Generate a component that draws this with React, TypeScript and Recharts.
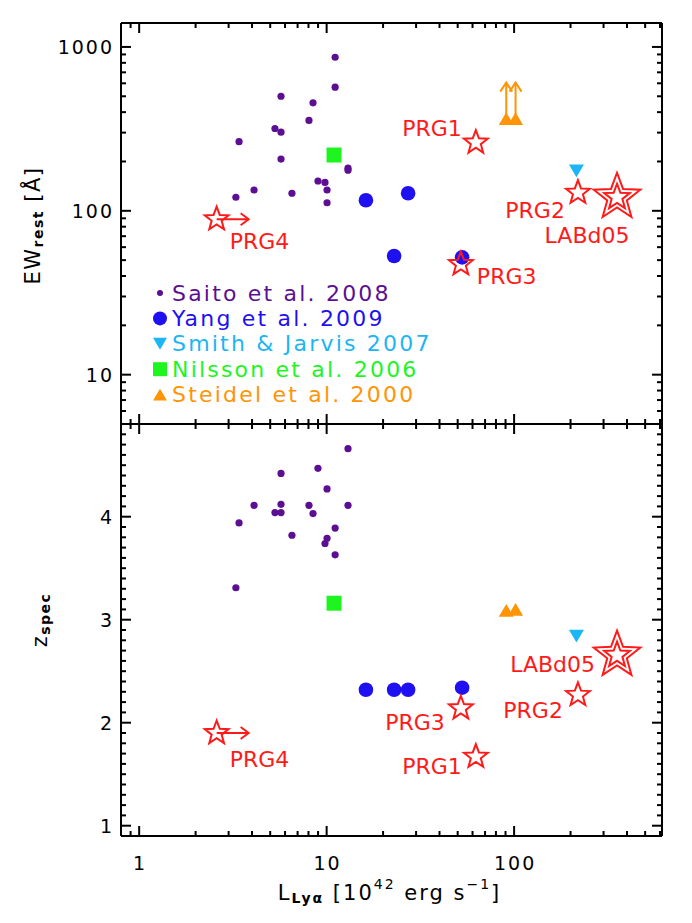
import React from 'react';
import { ScatterChart, Scatter, XAxis, YAxis, Legend } from 'recharts';

// Lya luminosity in 1e42 erg/s, rest-frame EW in Angstrom, spectroscopic redshift
const saitoL = [11.1, 11.1, 5.71, 8.46, 8.05, 5.3, 5.71, 3.41, 5.71, 13.0, 13.0, 8.99, 9.8, 10.05, 4.1, 6.53, 3.28, 10.05];
const saitoEW = [865, 568, 500, 456, 356, 318, 302, 264, 207, 182, 177, 152, 149, 134, 134, 128, 121, 112];
const saitoZ = [3.89, 3.63, 4.42, 4.03, 4.11, 4.04, 4.12, 3.94, 4.04, 4.66, 4.11, 4.47, 3.74, 4.27, 4.11, 3.82, 3.31, 3.79];

const yangL = [16.2, 22.9, 27.2, 52.8];
const yangEW = [116, 53, 128, 52];
const yangZ = [2.32, 2.32, 2.32, 2.34];

const smithL = [215];
const smithEW = [175];
const smithZ = [2.84];

const nilssonL = [10.95];
const nilssonEW = [219];
const nilssonZ = [3.16];

const steidelL = [90.8, 101.8];
const steidelEW = [365, 365];
const steidelZ = [3.09, 3.1];

const prgNames = ['PRG1', 'PRG2', 'PRG3', 'PRG4'];
const prgL = [62.5, 219, 52.0, 2.59];
const prgEW = [261, 129, 47.3, 88.9];
const prgZ = [1.67, 2.27, 2.14, 1.9];
const prgLowerLimitL = [false, false, false, true];

const labNames = ['LABd05'];
const labL = [354];
const labEW = [121];
const labZ = [2.656];

const legendNames = ['Saito et al. 2008', 'Yang et al. 2009', 'Smith & Jarvis 2007', 'Nilsson et al. 2006', 'Steidel et al. 2000'];

const X_DOMAIN = [0.8, 615];
const EW_DOMAIN = [5, 1400];
const Z_DOMAIN = [0.9, 4.9];

// ---- layout / style ----
const W = 692;
const H = 923;
const LEFT = 121;
const RIGHT = 662;
const TOP = 23;
const MID = 424;
const BOTTOM = 836;
const FONT = "'DejaVu Sans', sans-serif";
const AXIS_LINE = { stroke: '#000', strokeWidth: 2 };

const COLORS = {
  saito: '#5c0f92',
  yang: '#1f10f2',
  smith: '#1cb5f5',
  nilsson: '#1ef51e',
  steidel: '#ff9406',
  red: '#ff1a1a',
};
const legendColors = [COLORS.saito, COLORS.yang, COLORS.smith, COLORS.nilsson, COLORS.steidel];

// label placement next to the stars (offset from the marker)
const topLabelPos: Record<string, { dx: number; dy: number; anchor: string }> = {
  PRG1: { dx: -14, dy: -14, anchor: 'end' },
  PRG2: { dx: -13, dy: 18, anchor: 'end' },
  PRG3: { dx: 16, dy: 12, anchor: 'start' },
  PRG4: { dx: 13, dy: 22, anchor: 'start' },
  LABd05: { dx: -30, dy: 38, anchor: 'middle' },
};
const bottomLabelPos: Record<string, { dx: number; dy: number; anchor: string }> = {
  PRG1: { dx: -14, dy: 10, anchor: 'end' },
  PRG2: { dx: -15, dy: 16, anchor: 'end' },
  PRG3: { dx: -16, dy: 14, anchor: 'end' },
  PRG4: { dx: 13, dy: 26, anchor: 'start' },
  LABd05: { dx: -22, dy: 9, anchor: 'end' },
};

// ---- ticks ----
const logTicks = (lo: number, hi: number) => {
  const t: number[] = [];
  for (let e = -1; e <= 3; e++) {
    for (let m = 1; m <= 9; m++) {
      const v = +(m * Math.pow(10, e)).toPrecision(3);
      if (v > lo && v < hi) t.push(v);
    }
  }
  return t;
};
const xTicks = logTicks(X_DOMAIN[0], X_DOMAIN[1]);
const ewTicks = logTicks(EW_DOMAIN[0], EW_DOMAIN[1]);
const zTicks: number[] = [];
for (let k = 10; k < 49; k++) zTicks.push(k / 10);

const isDecade = (v: number) => Math.abs(Math.log10(v) - Math.round(Math.log10(v))) < 1e-6;
const isInteger = (v: number) => Math.abs(v - Math.round(v)) < 1e-6;

type Dir = 'up' | 'down' | 'left' | 'right';
const tickFactory = (dir: Dir, isMajor: (v: number) => boolean, label: 'below' | 'left' | null) =>
  function TickMark(props: any) {
    const { x, y, payload } = props;
    const v = payload.value;
    const major = isMajor(v);
    const len = major ? 10 : 5;
    const x2 = dir === 'left' ? x - len : dir === 'right' ? x + len : x;
    const y2 = dir === 'up' ? y - len : dir === 'down' ? y + len : y;
    const textStyle = { fontFamily: FONT, fontSize: 19, letterSpacing: 2, fill: '#000' };
    return (
      <g>
        <line x1={x} y1={y} x2={x2} y2={y2} stroke="#000" strokeWidth={2} />
        {major && label === 'below' && (
          <text x={x + 1} y={y + 27} textAnchor="middle" dominantBaseline="central" style={textStyle}>
            {v}
          </text>
        )}
        {major && label === 'left' && (
          <text x={x - 7} y={y} textAnchor="end" dominantBaseline="central" style={textStyle}>
            {v}
          </text>
        )}
      </g>
    );
  };

// ---- marker shapes ----
const starPath = (cx: number, cy: number, R: number) => {
  const r = R * 0.42;
  let d = '';
  for (let k = 0; k < 10; k++) {
    const rad = k % 2 === 0 ? R : r;
    const a = (-90 + k * 36) * (Math.PI / 180);
    d += `${k === 0 ? 'M' : 'L'}${cx + rad * Math.cos(a)},${cy + rad * Math.sin(a)}`;
  }
  return d + 'Z';
};

const dotShape = (r: number, fill: string) => (p: any) => <circle cx={p.cx} cy={p.cy} r={r} fill={fill} />;

const squareShape = (s: number, fill: string) => (p: any) => (
  <rect x={p.cx - s / 2} y={p.cy - s / 2} width={s} height={s} fill={fill} />
);

const triangle = (cx: number, cy: number, s: number, down: boolean, fill: string) => {
  const h = s * 0.85;
  const pts = down
    ? `${cx - s / 2},${cy - h / 2} ${cx + s / 2},${cy - h / 2} ${cx},${cy + h / 2}`
    : `${cx - s / 2},${cy + h / 2} ${cx + s / 2},${cy + h / 2} ${cx},${cy - h / 2}`;
  return <polygon points={pts} fill={fill} />;
};

const triShape = (s: number, down: boolean, fill: string, upArrow = false) => (p: any) => (
  <g>
    {triangle(p.cx, p.cy, s, down, fill)}
    {upArrow && (
      <g stroke={fill} strokeWidth={2} fill="none">
        <line x1={p.cx} y1={p.cy - 4} x2={p.cx} y2={p.cy - 36} />
        <polyline points={`${p.cx - 6},${p.cy - 27} ${p.cx},${p.cy - 36} ${p.cx + 6},${p.cy - 27}`} />
      </g>
    )}
  </g>
);

const starShape = (R: number, labels: Record<string, { dx: number; dy: number; anchor: string }>, double = false) =>
  (p: any) => {
    const pos = labels[p.payload.name];
    return (
      <g>
        <path d={starPath(p.cx, p.cy, R)} fill="none" stroke={COLORS.red} strokeWidth={2} />
        {double && <path d={starPath(p.cx, p.cy, R * 0.55)} fill="none" stroke={COLORS.red} strokeWidth={2} />}
        {p.payload.lowerL && (
          <g stroke={COLORS.red} strokeWidth={2} fill="none">
            <line x1={p.cx} y1={p.cy} x2={p.cx + 32} y2={p.cy} />
            <polyline points={`${p.cx + 24},${p.cy - 6} ${p.cx + 32},${p.cy} ${p.cx + 24},${p.cy + 6}`} />
          </g>
        )}
        <text
          x={p.cx + pos.dx}
          y={p.cy + pos.dy}
          textAnchor={pos.anchor as any}
          dominantBaseline="central"
          style={{ fontFamily: FONT, fontSize: 22, fill: COLORS.red }}
        >
          {p.payload.name}
        </text>
      </g>
    );
  };

const legendSymbol = (i: number, cx: number, cy: number) => {
  const fill = legendColors[i];
  if (i === 0) return <circle cx={cx} cy={cy} r={3} fill={fill} />;
  if (i === 1) return <circle cx={cx} cy={cy} r={7} fill={fill} />;
  if (i === 2) return triangle(cx, cy, 14, true, fill);
  if (i === 3) return <rect x={cx - 7} y={cy - 7} width={14} height={14} fill={fill} />;
  return triangle(cx, cy, 14, false, fill);
};

const renderLegend = () => (
  <svg width={330} height={135} style={{ overflow: 'visible', display: 'block' }}>
    {legendNames.map((name, i) => {
      const cy = 15 + i * 25.4;
      return (
        <g key={name}>
          {legendSymbol(i, 10, cy)}
          <text
            x={22}
            y={cy}
            dominantBaseline="central"
            style={{ fontFamily: FONT, fontSize: 22, letterSpacing: 2.2, fill: legendColors[i] }}
          >
            {name}
          </text>
        </g>
      );
    })}
  </svg>
);

// ---- axis titles ----
const EWTitle = (props: any) => {
  const vb = props.viewBox || { x: LEFT, y: TOP, height: MID - TOP };
  const cx = vb.x - 87;
  const cy = vb.y + vb.height / 2 + 2;
  return (
    <text
      x={cx}
      y={cy}
      transform={`rotate(-90 ${cx} ${cy})`}
      textAnchor="middle"
      dominantBaseline="central"
      style={{ fontFamily: FONT, fontSize: 21, letterSpacing: 1.5, fill: '#000' }}
    >
      EW
      <tspan dy={5} style={{ fontSize: 14, fontWeight: 'bold' }}>rest</tspan>
      <tspan dy={-5}> [Å]</tspan>
    </text>
  );
};

const ZTitle = (props: any) => {
  const vb = props.viewBox || { x: LEFT, y: MID, height: BOTTOM - MID };
  const cx = vb.x - 80;
  const cy = vb.y + vb.height / 2 - 10;
  return (
    <text
      x={cx}
      y={cy}
      transform={`rotate(-90 ${cx} ${cy})`}
      textAnchor="middle"
      dominantBaseline="central"
      style={{ fontFamily: FONT, fontSize: 21, letterSpacing: 1.5, fill: '#000' }}
    >
      z
      <tspan dy={5} style={{ fontSize: 14, fontWeight: 'bold' }}>spec</tspan>
    </text>
  );
};

const LTitle = (props: any) => {
  const vb = props.viewBox || { x: LEFT, y: BOTTOM, width: RIGHT - LEFT };
  const cx = vb.x + vb.width / 2 - 2;
  const cy = vb.y + 57;
  return (
    <text
      x={cx}
      y={cy}
      textAnchor="middle"
      dominantBaseline="central"
      style={{ fontFamily: FONT, fontSize: 21, letterSpacing: 2, fill: '#000' }}
    >
      L
      <tspan dy={5} style={{ fontSize: 14, fontWeight: 'bold' }}>Lyα</tspan>
      <tspan dy={-5}> [10</tspan>
      <tspan dy={-9} style={{ fontSize: 14 }}>42</tspan>
      <tspan dy={9}> erg s</tspan>
      <tspan dy={-9} style={{ fontSize: 14 }}>−1</tspan>
      <tspan dy={9}>]</tspan>
    </text>
  );
};

// ---- data tables ----
const pts = (xs: number[], ys: number[]) => xs.map((x, i) => ({ x, y: ys[i] }));
const prgPts = (ys: number[]) =>
  prgL.map((x, i) => ({ x, y: ys[i], name: prgNames[i], lowerL: prgLowerLimitL[i] }));
const labPts = (ys: number[]) => labL.map((x, i) => ({ x, y: ys[i], name: labNames[i], lowerL: false }));

const Panel = ({ top, bottom, yScale, yDomain, yTicks, yMajor, xLabels, title, lowerPanel, upper }: any) => {
  const ys = upper ? { saito: saitoEW, yang: yangEW, smith: smithEW, nilsson: nilssonEW, steidel: steidelEW, prg: prgEW, lab: labEW }
    : { saito: saitoZ, yang: yangZ, smith: smithZ, nilsson: nilssonZ, steidel: steidelZ, prg: prgZ, lab: labZ };
  const labels = upper ? topLabelPos : bottomLabelPos;
  return (
    <ScatterChart
      width={W}
      height={H}
      margin={{ top: top - 1, right: W - RIGHT - 1, bottom: H - bottom - 1, left: LEFT - 1 }}
    >
      <XAxis
        xAxisId="b"
        type="number"
        dataKey="x"
        scale="log"
        domain={X_DOMAIN}
        allowDataOverflow
        ticks={xTicks}
        interval={0}
        height={1}
        tickSize={0}
        tickMargin={0}
        tickLine={false}
        axisLine={AXIS_LINE}
        tick={tickFactory('up', isDecade, xLabels ? 'below' : null)}
        label={lowerPanel ? <LTitle /> : undefined}
      />
      <XAxis
        xAxisId="t"
        orientation="top"
        type="number"
        dataKey="x"
        scale="log"
        domain={X_DOMAIN}
        allowDataOverflow
        ticks={xTicks}
        interval={0}
        height={1}
        tickSize={0}
        tickMargin={0}
        tickLine={false}
        axisLine={AXIS_LINE}
        tick={tickFactory('down', isDecade, null)}
      />
      <YAxis
        yAxisId="l"
        type="number"
        dataKey="y"
        scale={yScale}
        domain={yDomain}
        allowDataOverflow
        ticks={yTicks}
        interval={0}
        width={1}
        tickSize={0}
        tickMargin={0}
        tickLine={false}
        axisLine={AXIS_LINE}
        tick={tickFactory('right', yMajor, 'left')}
        label={title}
      />
      <YAxis
        yAxisId="r"
        orientation="right"
        type="number"
        dataKey="y"
        scale={yScale}
        domain={yDomain}
        allowDataOverflow
        ticks={yTicks}
        interval={0}
        width={1}
        tickSize={0}
        tickMargin={0}
        tickLine={false}
        axisLine={AXIS_LINE}
        tick={tickFactory('left', yMajor, null)}
      />
      {upper && (
        <Legend
          layout="vertical"
          align="center"
          verticalAlign="middle"
          content={renderLegend}
          wrapperStyle={{ left: 150, top: 278, width: 330, height: 135 }}
        />
      )}
      <Scatter name="Saito et al. 2008" data={pts(saitoL, ys.saito)} xAxisId="b" yAxisId="l"
        shape={dotShape(3.6, COLORS.saito)} isAnimationActive={false} />
      <Scatter name="Nilsson et al. 2006" data={pts(nilssonL, ys.nilsson)} xAxisId="b" yAxisId="l"
        shape={squareShape(15, COLORS.nilsson)} isAnimationActive={false} />
      <Scatter name="Yang et al. 2009" data={pts(yangL, ys.yang)} xAxisId="b" yAxisId="l"
        shape={dotShape(7.3, COLORS.yang)} isAnimationActive={false} />
      <Scatter name="Smith & Jarvis 2007" data={pts(smithL, ys.smith)} xAxisId="b" yAxisId="l"
        shape={triShape(15, true, COLORS.smith)} isAnimationActive={false} />
      <Scatter name="Steidel et al. 2000" data={pts(steidelL, ys.steidel)} xAxisId="b" yAxisId="l"
        shape={triShape(15, false, COLORS.steidel, upper)} isAnimationActive={false} />
      <Scatter name="PRG" data={prgPts(ys.prg)} xAxisId="b" yAxisId="l"
        shape={starShape(12.5, labels)} isAnimationActive={false} />
      <Scatter name="LABd05" data={labPts(ys.lab)} xAxisId="b" yAxisId="l"
        shape={starShape(24.5, labels, true)} isAnimationActive={false} />
    </ScatterChart>
  );
};

export default function App() {
  return (
    <div style={{ position: 'absolute', left: 0, top: 0, width: W, height: H, background: '#fff' }}>
      <div style={{ position: 'absolute', left: 0, top: 0 }}>
        <Panel
          upper
          top={TOP}
          bottom={MID}
          yScale="log"
          yDomain={EW_DOMAIN}
          yTicks={ewTicks}
          yMajor={isDecade}
          xLabels={false}
          title={<EWTitle />}
        />
      </div>
      <div style={{ position: 'absolute', left: 0, top: 0 }}>
        <Panel
          upper={false}
          lowerPanel
          top={MID}
          bottom={BOTTOM}
          yScale="linear"
          yDomain={Z_DOMAIN}
          yTicks={zTicks}
          yMajor={isInteger}
          xLabels
          title={<ZTitle />}
        />
      </div>
    </div>
  );
}
